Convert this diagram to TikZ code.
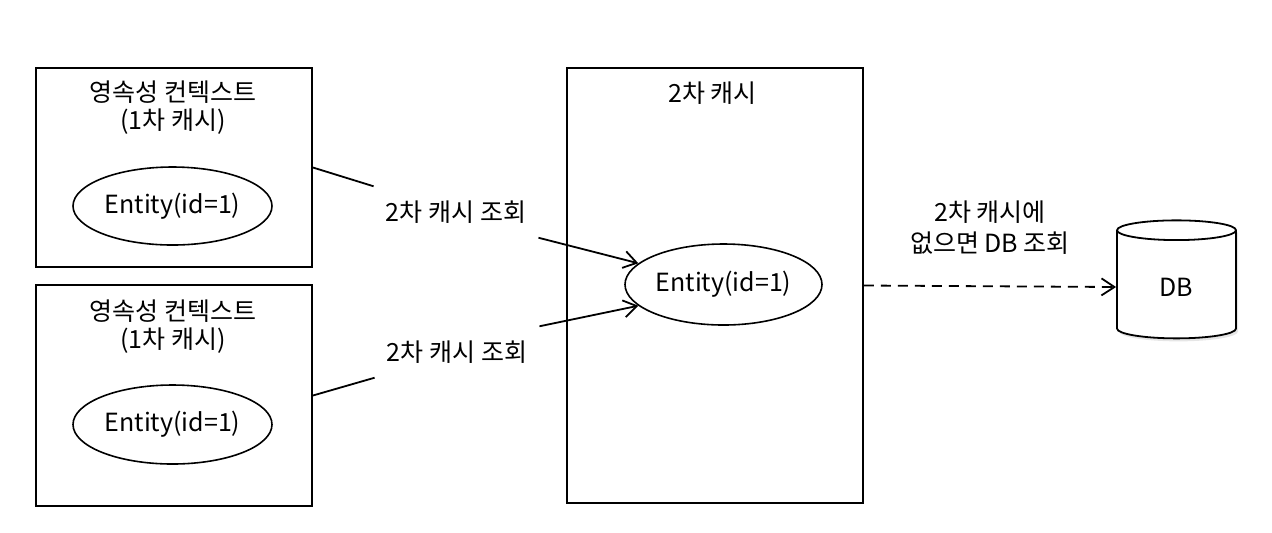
\documentclass[tikz,border=0pt]{standalone}
\usepackage{fontspec}
\setmainfont{Noto Sans CJK KR}
\usepackage{tikz}
\usetikzlibrary{arrows.meta, shapes.geometric, shadows}

\tikzset{
    >={Straight Barb[length=6.5pt,width=8.5pt]},
    box/.style={draw, line width=0.9pt, rectangle, inner sep=0pt},
    entity/.style={draw, line width=0.8pt, ellipse, inner sep=0pt},
    title/.style={align=center, inner sep=0pt},
    query/.style={inner xsep=6pt, inner ysep=7pt},
    link/.style={line width=0.9pt}
}

\begin{document}
\begin{tikzpicture}[x=0.5pt, y=-0.5pt, font=\fontsize{12.5pt}{14pt}\selectfont]
        \useasboundingbox (0,0) rectangle (1272,532);

        % first level caches
        \node[box, minimum width=138pt, minimum height=99.5pt] (pc1) at (174,167.5) {};
        \node[box, minimum width=138pt, minimum height=110.5pt] (pc2) at (174,395.5) {};
        \node[title] (pc1title) at (173,108) {영속성 컨텍스트\\(1차 캐시)};
        \node[title] (pc2title) at (173,326.5) {영속성 컨텍스트\\(1차 캐시)};
        \node[entity, minimum width=99.5pt, minimum height=39pt] (ent1) at (172.5,206) {Entity(id=1)};
        \node[entity, minimum width=99.5pt, minimum height=39.5pt] (ent2) at (172.5,424.5) {Entity(id=1)};

        % second level cache
        \node[box, minimum width=148pt, minimum height=217.5pt] (cache) at (715,285.5) {};
        \node[title] (cachetitle) at (712.5,93) {2차 캐시};
        \node[entity, minimum width=98.5pt, minimum height=40.5pt] (ent3) at (723.5,284.5) {Entity(id=1)};

        % database
        \node[draw, line width=0.9pt, cylinder, shape border rotate=90, aspect=0.42,
              minimum width=59.5pt, minimum height=59pt, fill=white,
              drop shadow={opacity=0.2, shadow xshift=1pt, shadow yshift=-1.5pt}] (db) at (1176.5,287) {DB};
        \node[title, font=\fontsize{12.5pt}{15.5pt}\selectfont] (dblabel) at (990,227.5) {2차 캐시에\\없으면 DB 조회};

        % lookups
        \node[query] (q1) at (456,212) {2차 캐시 조회};
        \node[query] (q2) at (457,352) {2차 캐시 조회};

        \draw[link] (pc1.east) -- (q1.north west);
        \draw[link, ->] (q1.south east) -- (ent3.166);
        \draw[link] (pc2.east) -- (q2.south west);
        \draw[link, ->] (q2.north east) -- (ent3.194);
        \draw[link, dashed, dash pattern=on 5pt off 3.5pt, ->] (cache.east) -- (db.west);

    \end{tikzpicture}
\end{document}
